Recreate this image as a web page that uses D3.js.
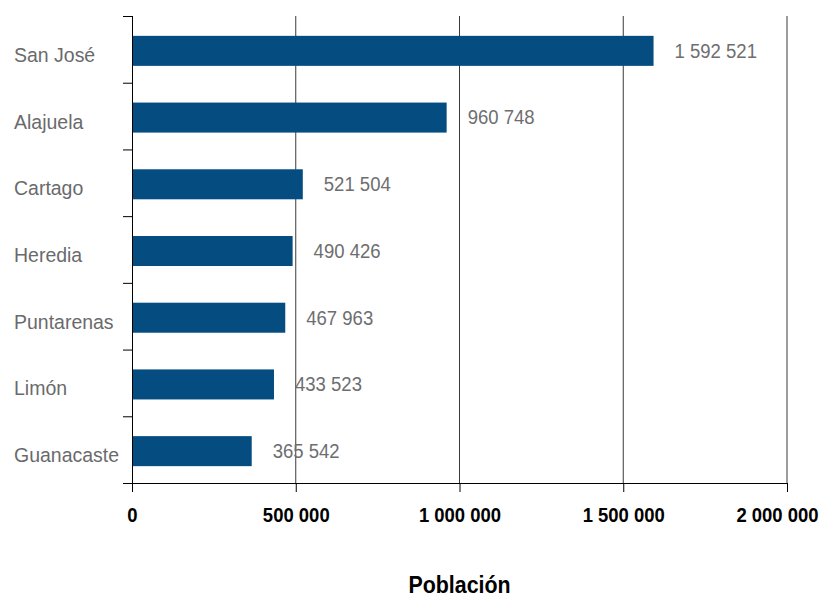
<!DOCTYPE html>
<html>
<head>
<meta charset="utf-8">
<script src="https://cdn.jsdelivr.net/npm/d3@7"></script>
<style>
  html, body { margin: 0; padding: 0; background: #ffffff; }
  svg { display: block; }
  text { font-family: "Liberation Sans", Arial, Helvetica, sans-serif; }
</style>
</head>
<body>
<svg id="chart" width="825" height="597"></svg>
<script>
// Población por provincia
const provinces = ["San José", "Alajuela", "Cartago", "Heredia", "Puntarenas", "Limón", "Guanacaste"];
const population = [1592521, 960748, 521504, 490426, 467963, 433523, 365542];
const xTicks = [0, 500000, 1000000, 1500000, 2000000];
const xTitle = "Población";

const W = 825, H = 597;
const margin = { top: 16, right: 38, bottom: 114, left: 132 };
const innerW = W - margin.left - margin.right;
const innerH = H - margin.top - margin.bottom;

const fmt = v => d3.format(",")(v).replace(/,/g, " ");

// squeeze a text element horizontally to give a condensed face
function condense(sel, factor) {
  sel.each(function () {
    const len = this.getComputedTextLength();
    d3.select(this)
      .attr("textLength", len * factor)
      .attr("lengthAdjust", "spacingAndGlyphs");
  });
}

const svg = d3.select("#chart");
const g = svg.append("g").attr("transform", `translate(${margin.left},${margin.top})`);

const x = d3.scaleLinear().domain([0, 2000000]).range([0, innerW]);
const rows = d3.scaleBand().domain(provinces).range([0, innerH]).padding(0);
const y = d3.scaleBand().domain(provinces).range([0, innerH]).paddingInner(0.55).paddingOuter(0.275);

// vertical gridlines
g.append("g")
  .selectAll("line")
  .data(xTicks.filter(t => t > 0))
  .join("line")
  .attr("x1", d => x(d)).attr("x2", d => x(d))
  .attr("y1", 0).attr("y2", innerH)
  .attr("stroke", "#3a3a3a")
  .attr("stroke-width", 1);

// bars
g.append("g")
  .selectAll("rect")
  .data(provinces)
  .join("rect")
  .attr("x", 0)
  .attr("y", (d, i) => y(d) + 1.5)
  .attr("width", (d, i) => x(population[i]))
  .attr("height", y.bandwidth())
  .attr("fill", "#054c80");

// value labels
g.append("g")
  .selectAll("text")
  .data(provinces)
  .join("text")
  .attr("x", (d, i) => x(population[i]) + 21)
  .attr("y", (d, i) => y(d) + 1.5 + y.bandwidth() / 2)
  .attr("dy", "0.35em")
  .attr("font-size", 19.5)
  .attr("fill", "#6e6e70")
  .text((d, i) => fmt(population[i]))
  .call(condense, 0.95);

// bottom axis
const xAxis = g.append("g")
  .attr("transform", `translate(0,${innerH})`)
  .call(d3.axisBottom(x).tickValues(xTicks).tickSize(9).tickPadding(15).tickFormat(fmt));
xAxis.select(".domain").remove();
xAxis.selectAll(".tick line").attr("stroke", "#000");
xAxis.selectAll(".tick text")
  .attr("font-family", "'Liberation Sans', Arial, sans-serif")
  .attr("font-size", 21)
  .attr("font-weight", "bold")
  .attr("fill", "#000")
  .call(condense, 0.88);
// keep the last label inside the canvas
xAxis.selectAll(".tick text").filter(d => d === xTicks[xTicks.length - 1]).attr("dx", -10);
xAxis.append("line")
  .attr("x1", -9).attr("x2", innerW)
  .attr("y1", 0.5).attr("y2", 0.5)
  .attr("stroke", "#000");

// left axis with ticks between rows
const leftAxis = g.append("g");
leftAxis.append("line")
  .attr("x1", 0.5).attr("x2", 0.5)
  .attr("y1", 0).attr("y2", innerH + 9)
  .attr("stroke", "#000");
const bounds = provinces.map(p => rows(p));
leftAxis.selectAll("line.tick")
  .data(bounds)
  .join("line")
  .attr("class", "tick")
  .attr("x1", -9).attr("x2", 0)
  .attr("y1", d => d + 0.5).attr("y2", d => d + 0.5)
  .attr("stroke", "#000");

// category labels
svg.append("g")
  .selectAll("text")
  .data(provinces)
  .join("text")
  .attr("x", 14)
  .attr("y", d => margin.top + y(d) + 1.5 + y.bandwidth() / 2 + 11)
  .attr("font-size", 20.5)
  .attr("fill", "#6a6a6c")
  .text(d => d)
  .call(condense, 0.95);

// axis title
svg.append("text")
  .attr("x", margin.left + innerW / 2)
  .attr("y", 593)
  .attr("text-anchor", "middle")
  .attr("font-size", 23)
  .attr("font-weight", "bold")
  .attr("fill", "#000")
  .text(xTitle)
  .call(condense, 0.93);
</script>
</body>
</html>
